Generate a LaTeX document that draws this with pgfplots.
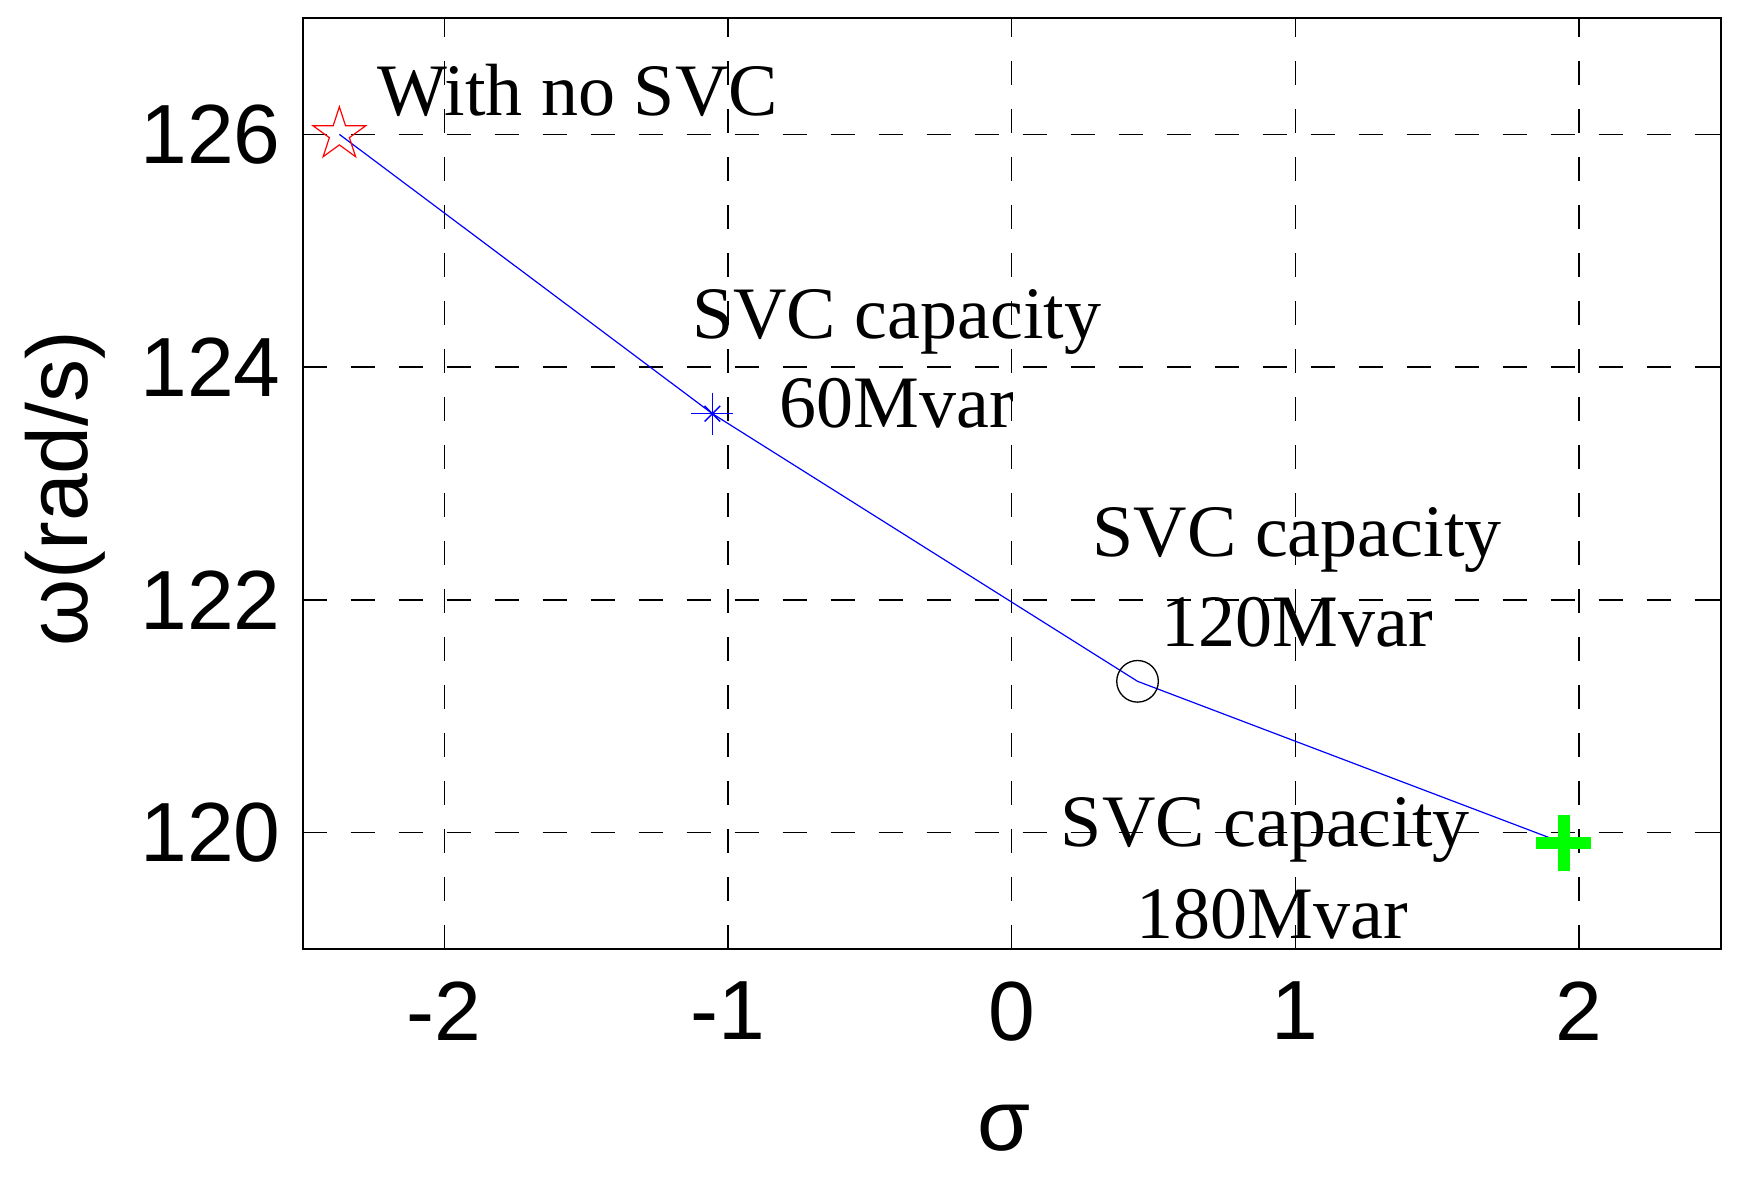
\documentclass[border=0pt]{standalone}
\usepackage{fontspec}
\setmainfont{Liberation Sans}
\newfontfamily\timesfont{Liberation Serif}
\usepackage{pgfplots}
\pgfplotsset{compat=1.18}
\definecolor{mgreen}{RGB}{0,255,0}
\pgfdeclareplotmark{pentagram}{%
  \pgfpathmoveto{\pgfpointpolar{90}{\pgfplotmarksize}}%
  \pgfpathlineto{\pgfpointpolar{126}{0.382\pgfplotmarksize}}%
  \pgfpathlineto{\pgfpointpolar{162}{\pgfplotmarksize}}%
  \pgfpathlineto{\pgfpointpolar{198}{0.382\pgfplotmarksize}}%
  \pgfpathlineto{\pgfpointpolar{234}{\pgfplotmarksize}}%
  \pgfpathlineto{\pgfpointpolar{270}{0.382\pgfplotmarksize}}%
  \pgfpathlineto{\pgfpointpolar{306}{\pgfplotmarksize}}%
  \pgfpathlineto{\pgfpointpolar{342}{0.382\pgfplotmarksize}}%
  \pgfpathlineto{\pgfpointpolar{18}{\pgfplotmarksize}}%
  \pgfpathlineto{\pgfpointpolar{54}{0.382\pgfplotmarksize}}%
  \pgfpathclose
  \pgfusepathqstroke
}
\begin{document}
\begin{tikzpicture}
\begin{axis}[
  scale only axis,
  width=354.55pt, height=232.75pt,
  xmin=-2.5, xmax=2.5, ymin=119, ymax=127,
  xtick={-2,-1,0,1,2}, ytick={120,122,124,126},
  /pgf/number format/assume math mode=true,
  tick align=inside,
  major tick length=3.75pt,
  tick style={black, line width=0.35pt},
  axis line style={black, line width=0.5pt},
  grid=major,
  major grid style={black, line width=0.35pt, dash pattern=on 6pt off 6pt},
  tick label style={font=\fontsize{21pt}{21pt}\selectfont},
  yticklabel style={anchor=east, inner sep=0pt, xshift=-5.3pt},
  xticklabel style={anchor=north, inner sep=0pt, yshift=-8pt},
  every axis x label/.style={at={(axis description cs:0.4946,-0.217)}, anchor=base, inner sep=0pt, font=\fontsize{21.5pt}{21.5pt}\selectfont},
  every axis y label/.style={at={(axis description cs:-0.1513,0.4946)}, rotate=90, anchor=base, inner sep=0pt, font=\fontsize{21.5pt}{21.5pt}\selectfont},
  xlabel={σ},
  ylabel={ω(rad/s)},
  clip=false,
]
\coordinate (ll) at (rel axis cs:0,0);
\coordinate (ur) at (rel axis cs:1,1);
% connecting line
\addplot[blue, line width=0.3pt, mark=none] coordinates {
  (-2.37,126.0) (-1.055,123.6) (0.444,121.3) (1.946,119.91)
};
% With no SVC
\addplot[only marks, red, mark=pentagram, mark size=6.9pt, mark options={line width=0.3pt, fill=none}] coordinates {(-2.37,126.0)};
% 60 Mvar
\addplot[only marks, blue, mark=+, mark size=5.25pt, mark options={line width=0.35pt}] coordinates {(-1.055,123.6)};
\addplot[only marks, blue, mark=x, mark size=2.75pt, mark options={line width=0.35pt}] coordinates {(-1.055,123.6)};
% 120 Mvar
\addplot[only marks, black, mark=o, mark size=5.2pt, mark options={line width=0.33pt}] coordinates {(0.444,121.3)};
% 180 Mvar
\addplot[only marks, mgreen, mark=+, mark size=6.9pt, mark options={line width=3pt}] coordinates {(1.946,119.91)};

\begin{scope}[every node/.style={anchor=base, inner sep=0pt, font=\timesfont\fontsize{18.5pt}{18.5pt}\selectfont}]
\node at (axis cs:-1.529,126.166) {With no SVC};
\node at (axis cs:-0.405,124.248) {SVC capacity};
\node at (axis cs:-0.405,123.477) {60Mvar};
\node at (axis cs:1.007,122.371) {SVC capacity};
\node at (axis cs:1.007,121.598) {120Mvar};
\node at (axis cs:0.895,119.879) {SVC capacity};
\node at (axis cs:0.92,119.092) {180Mvar};
\end{scope}
\end{axis}
\pgfresetboundingbox
\path ([shift={(-75.625pt,-57.5pt)}]ll) rectangle ([shift={(7.075pt,4.5pt)}]ur);
\end{tikzpicture}
\end{document}
